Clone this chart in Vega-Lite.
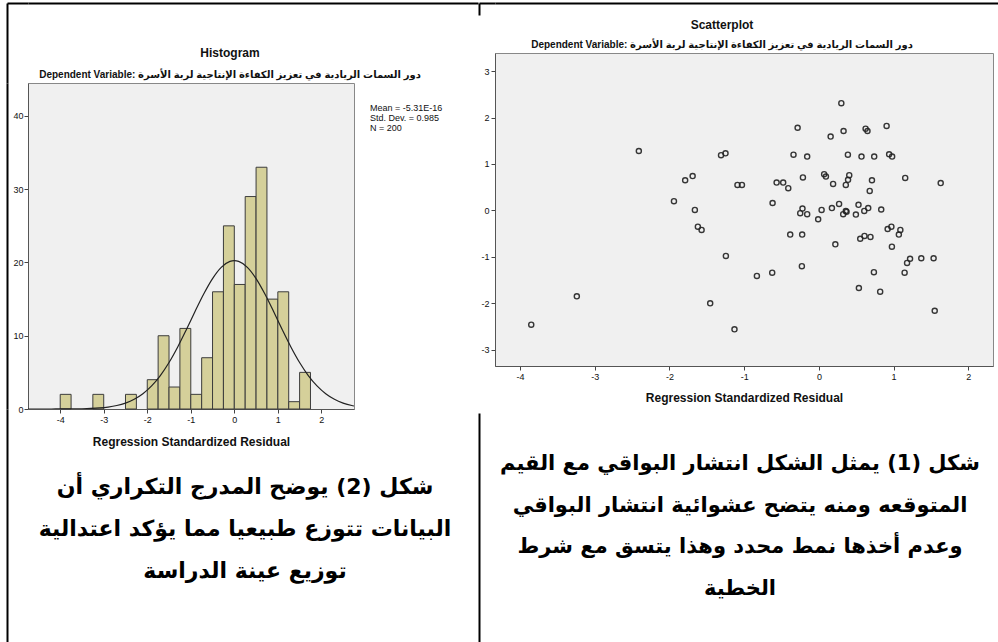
{
  "$schema": "https://vega.github.io/schema/vega-lite/v6.json",
  "background": "white",
  "padding": {"left": 6, "top": 2, "right": 0, "bottom": 0},
  "config": {
    "font": "Liberation Sans, DejaVu Sans, sans-serif",
    "axis": {"labelFontSize": 9, "labelColor": "#111", "tickColor": "#444", "tickSize": 4, "domainColor": "#555", "grid": false, "titleFontSize": 12, "titleFontWeight": "bold", "titleColor": "#111", "labelPadding": 2},
    "title": {"fontSize": 12, "fontWeight": "bold", "color": "#111", "subtitleFontSize": 10, "subtitleFontWeight": "bold", "subtitleColor": "#111"}
  },
  "datasets": {
    "bins": [
      {"lo": -4.0, "hi": -3.75, "count": 2},
      {"lo": -3.25, "hi": -3.0, "count": 2},
      {"lo": -2.5, "hi": -2.25, "count": 2},
      {"lo": -2.0, "hi": -1.75, "count": 4},
      {"lo": -1.75, "hi": -1.5, "count": 10},
      {"lo": -1.5, "hi": -1.25, "count": 3},
      {"lo": -1.25, "hi": -1.0, "count": 11},
      {"lo": -1.0, "hi": -0.75, "count": 2},
      {"lo": -0.75, "hi": -0.5, "count": 7},
      {"lo": -0.5, "hi": -0.25, "count": 16},
      {"lo": -0.25, "hi": 0.0, "count": 25},
      {"lo": 0.0, "hi": 0.25, "count": 17},
      {"lo": 0.25, "hi": 0.5, "count": 29},
      {"lo": 0.5, "hi": 0.75, "count": 33},
      {"lo": 0.75, "hi": 1.0, "count": 15},
      {"lo": 1.0, "hi": 1.25, "count": 16},
      {"lo": 1.25, "hi": 1.5, "count": 1},
      {"lo": 1.5, "hi": 1.75, "count": 5}
    ],
    "curve": [
      {"x": -4.74, "density": 0.0002}, {"x": -4.5, "density": 0.0006}, {"x": -4.3, "density": 0.0015},
      {"x": -4.1, "density": 0.0035}, {"x": -3.9, "density": 0.008}, {"x": -3.7, "density": 0.0175},
      {"x": -3.5, "density": 0.037}, {"x": -3.3, "density": 0.074}, {"x": -3.1, "density": 0.143},
      {"x": -2.9, "density": 0.265}, {"x": -2.7, "density": 0.473}, {"x": -2.5, "density": 0.809},
      {"x": -2.3, "density": 1.326}, {"x": -2.1, "density": 2.086}, {"x": -1.9, "density": 3.152},
      {"x": -1.7, "density": 4.568}, {"x": -1.5, "density": 6.351}, {"x": -1.3, "density": 8.476},
      {"x": -1.1, "density": 10.854}, {"x": -0.9, "density": 13.34}, {"x": -0.7, "density": 15.731},
      {"x": -0.5, "density": 17.802}, {"x": -0.3, "density": 19.332}, {"x": -0.1, "density": 20.146},
      {"x": 0.0, "density": 20.25}, {"x": 0.1, "density": 20.146}, {"x": 0.3, "density": 19.332},
      {"x": 0.5, "density": 17.802}, {"x": 0.7, "density": 15.731}, {"x": 0.9, "density": 13.34},
      {"x": 1.1, "density": 10.854}, {"x": 1.3, "density": 8.476}, {"x": 1.5, "density": 6.351},
      {"x": 1.7, "density": 4.568}, {"x": 1.9, "density": 3.152}, {"x": 2.1, "density": 2.086},
      {"x": 2.3, "density": 1.326}, {"x": 2.5, "density": 0.809}, {"x": 2.7, "density": 0.473},
      {"x": 2.75, "density": 0.411}
    ],
    "stats": [
      {"label": "Mean = -5.31E-16"},
      {"label": "Std. Dev. = 0.985"},
      {"label": "N = 200"}
    ],
    "scatter": [
      {"x": 0.30, "y": 2.31}, {"x": -0.285, "y": 1.78}, {"x": 0.157, "y": 1.59}, {"x": 0.33, "y": 1.71},
      {"x": 0.625, "y": 1.76}, {"x": 0.65, "y": 1.71}, {"x": 0.906, "y": 1.82}, {"x": -2.41, "y": 1.28},
      {"x": -1.31, "y": 1.19}, {"x": -1.25, "y": 1.23}, {"x": -0.34, "y": 1.20}, {"x": -0.157, "y": 1.16},
      {"x": 0.388, "y": 1.20}, {"x": 0.57, "y": 1.16}, {"x": 0.74, "y": 1.16}, {"x": 0.94, "y": 1.21},
      {"x": 0.98, "y": 1.16}, {"x": -1.79, "y": 0.65}, {"x": -1.69, "y": 0.74}, {"x": -1.09, "y": 0.55},
      {"x": -1.03, "y": 0.55}, {"x": -0.566, "y": 0.60}, {"x": -0.478, "y": 0.60}, {"x": -0.41, "y": 0.48},
      {"x": -0.214, "y": 0.71}, {"x": 0.07, "y": 0.78}, {"x": 0.094, "y": 0.73}, {"x": 0.19, "y": 0.57},
      {"x": 0.406, "y": 0.76}, {"x": 0.39, "y": 0.66}, {"x": 0.36, "y": 0.55}, {"x": 0.71, "y": 0.65},
      {"x": 0.68, "y": 0.42}, {"x": 1.155, "y": 0.70}, {"x": 1.63, "y": 0.59}, {"x": -0.62, "y": 0.16},
      {"x": -1.94, "y": 0.20}, {"x": -1.66, "y": 0.01}, {"x": -0.22, "y": 0.04}, {"x": -0.25, "y": -0.06},
      {"x": -0.157, "y": -0.08}, {"x": 0.036, "y": 0.01}, {"x": -0.01, "y": -0.19}, {"x": 0.174, "y": 0.05},
      {"x": 0.27, "y": 0.14}, {"x": 0.325, "y": -0.08}, {"x": 0.36, "y": -0.01}, {"x": 0.37, "y": -0.03},
      {"x": 0.495, "y": -0.09}, {"x": 0.53, "y": 0.12}, {"x": 0.607, "y": -0.01}, {"x": 0.66, "y": 0.05},
      {"x": 0.834, "y": 0.02}, {"x": -0.384, "y": -0.52}, {"x": -0.224, "y": -0.52}, {"x": 0.22, "y": -0.73},
      {"x": 0.553, "y": -0.61}, {"x": 0.61, "y": -0.55}, {"x": 0.69, "y": -0.57}, {"x": 0.92, "y": -0.40},
      {"x": 0.97, "y": -0.35}, {"x": 1.09, "y": -0.42}, {"x": 1.07, "y": -0.52}, {"x": 0.977, "y": -0.78},
      {"x": -0.83, "y": -1.41}, {"x": -0.625, "y": -1.34}, {"x": -0.228, "y": -1.20}, {"x": 0.736, "y": -1.33},
      {"x": 0.535, "y": -1.67}, {"x": 0.82, "y": -1.75}, {"x": 1.22, "y": -1.04}, {"x": 1.18, "y": -1.13},
      {"x": 1.147, "y": -1.34}, {"x": 1.37, "y": -1.03}, {"x": 1.535, "y": -1.03}, {"x": 1.55, "y": -2.16},
      {"x": -1.62, "y": -0.35}, {"x": -1.57, "y": -0.42}, {"x": -1.245, "y": -0.98}, {"x": -3.24, "y": -1.85},
      {"x": -3.85, "y": -2.46}, {"x": -1.455, "y": -2.0}, {"x": -1.13, "y": -2.56}
    ],
    "capL": [
      {"line": 1, "text": "شكل (2) يوضح المدرج التكراري أن"},
      {"line": 2, "text": "البيانات تتوزع طبيعيا مما يؤكد اعتدالية"},
      {"line": 3, "text": "توزيع عينة الدراسة"}
    ],
    "capR": [
      {"line": 1, "text": "شكل (1) يمثل الشكل انتشار البواقي مع القيم"},
      {"line": 2, "text": "المتوقعه ومنه يتضح عشوائية انتشار البواقي"},
      {"line": 3, "text": "وعدم أخذها نمط محدد وهذا يتسق مع شرط"},
      {"line": 4, "text": "الخطية"}
    ],
    "frame": [{"v": 0}]
  },
  "hconcat": [
    {
      "vconcat": [
        {
          "width": 450, "height": 80,
          "view": {"stroke": null},
          "data": {"name": "frame"},
          "layer": [
            {
              "mark": {"type": "text", "text": ""},
              "encoding": {
                "x": {"field": "v", "type": "quantitative", "scale": {"domain": [0, 1]}, "axis": {"orient": "top", "labels": false, "ticks": false, "title": null, "domainColor": "#000", "domainWidth": 2}},
                "y": {"field": "v", "type": "quantitative", "scale": {"domain": [0, 1]}, "axis": {"orient": "left", "offset": 21, "labels": false, "ticks": false, "title": null, "domainColor": "#000", "domainWidth": 2}}
              }
            },
            {
              "mark": {"type": "text", "text": ""},
              "encoding": {
                "y": {"field": "v", "type": "quantitative", "axis": {"orient": "left", "offset": 0, "domain": false, "labels": false, "values": [1], "tickSize": 21, "tickWidth": 2, "tickColor": "#000", "title": null}}
              }
            }
          ],
          "resolve": {"axis": {"y": "independent"}}
        },
        {
          "width": 326, "height": 326,
          "view": {"fill": "#f0f0f0", "stroke": "#888"},
          "title": {
            "text": "Histogram",
            "subtitle": "Dependent Variable: دور السمات الريادية في تعزيز الكفاءة الإنتاجية لربة الأسرة",
            "anchor": "middle", "dx": 39, "offset": 2, "subtitlePadding": 10
          },
          "layer": [
            {
              "data": {"name": "bins"},
              "mark": {"type": "rect", "fill": "#d5d09a", "stroke": "#3c3c3c", "strokeWidth": 1},
              "encoding": {
                "x": {"field": "lo", "type": "quantitative", "scale": {"domain": [-4.74, 2.75], "nice": false, "zero": false},
                      "axis": {"values": [-4, -3, -2, -1, 0, 1, 2], "labelExpr": "toString(datum.value)", "title": "Regression Standardized Residual", "titlePadding": 12}},
                "x2": {"field": "hi"},
                "y": {"field": "count", "type": "quantitative", "scale": {"domain": [0, 44.5], "nice": false},
                      "axis": {"values": [0, 10, 20, 30, 40], "title": null, "labelPadding": 1}},
                "y2": {"datum": 0}
              }
            },
            {
              "data": {"name": "curve"},
              "mark": {"type": "line", "color": "#222", "strokeWidth": 1.2, "interpolate": "monotone", "clip": true},
              "encoding": {
                "x": {"field": "x", "type": "quantitative"},
                "y": {"field": "density", "type": "quantitative",
                      "axis": {"orient": "left", "offset": 21, "labels": false, "ticks": false, "title": null, "domainColor": "#000", "domainWidth": 2}}
              }
            },
            {
              "data": {"name": "stats"},
              "mark": {"type": "point", "opacity": 0},
              "encoding": {
                "color": {"field": "label", "type": "nominal",
                          "scale": {"domain": ["Mean = -5.31E-16", "Std. Dev. = 0.985", "N = 200"], "range": ["#000", "#000", "#000"]},
                          "legend": {"orient": "none", "legendX": 333, "legendY": 100, "title": null, "symbolOpacity": 0, "symbolStrokeWidth": 0, "symbolSize": 1, "labelOffset": 0, "labelFontSize": 9, "labelColor": "#111", "rowPadding": 0, "padding": 0, "labelLimit": 200}}
              }
            }
          ],
          "resolve": {"axis": {"y": "independent"}}
        },
        {
          "width": 434, "height": 233,
          "view": {"stroke": null},
          "data": {"name": "capL"},
          "mark": {"type": "text", "fontSize": 22, "fontWeight": "bold", "font": "DejaVu Sans", "align": "center", "baseline": "middle", "color": "#000"},
          "encoding": {
            "y": {"field": "line", "type": "quantitative", "scale": {"domain": [-0.857, 4.69], "reverse": true, "nice": false, "zero": false},
                  "axis": {"orient": "left", "offset": 21, "labels": false, "ticks": false, "title": null, "domainColor": "#000", "domainWidth": 2}},
            "text": {"field": "text"}
          }
        }
      ],
      "spacing": 0,
      "bounds": "flush"
    },
    {
      "vconcat": [
        {
          "width": 503, "height": 12,
          "view": {"stroke": null},
          "data": {"name": "frame"},
          "layer": [
            {
              "mark": {"type": "text", "text": ""},
              "encoding": {
                "x": {"field": "v", "type": "quantitative", "scale": {"domain": [0, 1]}, "axis": {"orient": "top", "labels": false, "ticks": false, "title": null, "domainColor": "#000", "domainWidth": 2}},
                "y": {"field": "v", "type": "quantitative", "scale": {"domain": [0, 1]}, "axis": {"orient": "left", "offset": 16, "labels": false, "ticks": false, "title": null, "domainColor": "#000", "domainWidth": 2}}
              }
            },
            {
              "mark": {"type": "text", "text": ""},
              "encoding": {
                "y": {"field": "v", "type": "quantitative", "axis": {"orient": "left", "offset": 0, "domain": false, "labels": false, "values": [1], "tickSize": 16, "tickWidth": 2, "tickColor": "#000", "title": null}}
              }
            }
          ],
          "resolve": {"axis": {"y": "independent"}}
        },
        {
          "width": 503, "height": 38,
          "view": {"stroke": null},
          "data": {"name": "frame"},
          "mark": {"type": "text", "text": ""},
          "encoding": {}
        },
        {
          "width": 498, "height": 313,
          "view": {"fill": "#f0f0f0", "stroke": "#888"},
          "title": {
            "text": "Scatterplot",
            "subtitle": "Dependent Variable: دور السمات الريادية في تعزيز الكفاءة الإنتاجية لربة الأسرة",
            "anchor": "middle", "dx": -22, "offset": 2, "subtitlePadding": 8
          },
          "data": {"name": "scatter"},
          "mark": {"type": "point", "shape": "circle", "filled": false, "stroke": "#222", "strokeWidth": 1.4, "size": 26, "opacity": 0.9},
          "encoding": {
            "x": {"field": "x", "type": "quantitative", "scale": {"domain": [-4.335, 2.33], "nice": false, "zero": false},
                  "axis": {"values": [-4, -3, -2, -1, 0, 1, 2], "labelExpr": "toString(datum.value)", "title": "Regression Standardized Residual", "titlePadding": 11}},
            "y": {"field": "y", "type": "quantitative", "scale": {"domain": [-3.35, 3.39], "nice": false, "zero": false},
                  "axis": {"values": [-3, -2, -1, 0, 1, 2, 3], "labelExpr": "toString(datum.value)", "title": null}}
          }
        },
        {
          "width": 498, "height": 47,
          "view": {"stroke": null},
          "data": {"name": "frame"},
          "mark": {"type": "text", "text": ""},
          "encoding": {}
        },
        {
          "width": 490, "height": 229,
          "view": {"stroke": null},
          "data": {"name": "capR"},
          "mark": {"type": "text", "fontSize": 21, "fontWeight": "bold", "font": "DejaVu Sans", "align": "center", "baseline": "middle", "color": "#000"},
          "encoding": {
            "y": {"field": "line", "type": "quantitative", "scale": {"domain": [-0.223, 5.269], "reverse": true, "nice": false, "zero": false},
                  "axis": {"orient": "left", "offset": 16, "labels": false, "ticks": false, "title": null, "domainColor": "#000", "domainWidth": 2}},
            "text": {"field": "text"}
          }
        }
      ],
      "spacing": 0,
      "bounds": "flush"
    }
  ],
  "spacing": 0
}
